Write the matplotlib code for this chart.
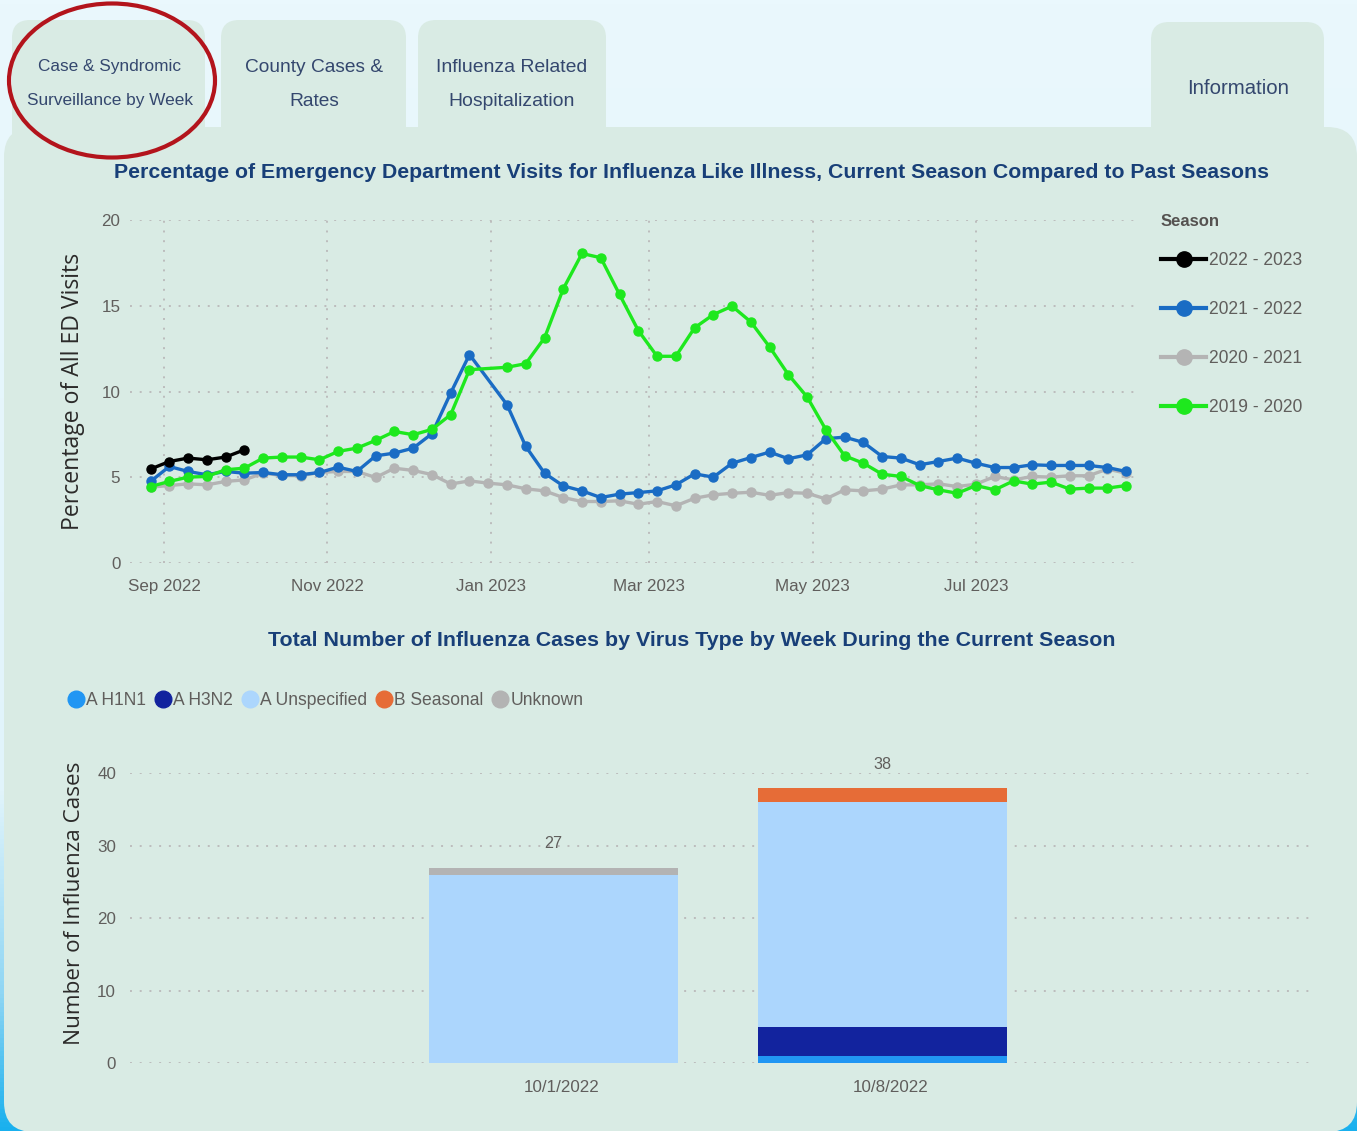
import numpy as np
import pandas as pd
import matplotlib
matplotlib.use("Agg")
import matplotlib.pyplot as plt
from matplotlib.patches import FancyBboxPatch, Ellipse
from matplotlib.lines import Line2D
from matplotlib.colors import LinearSegmentedColormap
from matplotlib.transforms import ScaledTranslation
from datetime import datetime

# ---------------- data ----------------
first_week = "2022-08-27"
n_weeks = 53
season_labels = ["2022 - 2023", "2021 - 2022", "2020 - 2021", "2019 - 2020"]
season_colors = ["#000000", "#1a6cc4", "#b4b4b4", "#1ee81e"]

ili_2022_2023 = [5.49, 5.93, 6.13, 6.03, 6.19, 6.61]
ili_2021_2022 = [4.77, 5.64, 5.35, 5.16, 5.35, 5.25, 5.29, 5.16, 5.16, 5.29,
                 5.60, 5.35, 6.26, 6.42, 6.71, 7.55, 9.92, 12.16, np.nan, 9.24,
                 6.81, 5.25, 4.51, 4.22, 3.83, 4.03, 4.12, 4.22, 4.57, 5.21,
                 5.02, 5.83, 6.16, 6.48, 6.09, 6.32, 7.26, 7.35, 7.04, 6.22,
                 6.13, 5.74, 5.93, 6.13, 5.83, 5.58, 5.58, 5.74, 5.70, 5.70,
                 5.70, 5.58, 5.35]
ili_2020_2021 = [4.44, 4.53, 4.63, 4.57, 4.77, 4.86, 5.25, 5.12, 5.10, 5.29,
                 5.35, 5.35, 5.00, 5.54, 5.41, 5.17, 4.62, 4.80, 4.67, 4.57,
                 4.34, 4.22, 3.83, 3.60, 3.60, 3.64, 3.44, 3.60, 3.35, 3.79,
                 3.99, 4.08, 4.14, 3.96, 4.12, 4.08, 3.75, 4.28, 4.22, 4.32,
                 4.57, 4.57, 4.63, 4.47, 4.61, 5.06, 4.86, 5.06, 5.02, 5.10,
                 5.10, 5.49, 5.25]
ili_2019_2020 = [4.47, 4.77, 5.02, 5.06, 5.45, 5.54, 6.13, 6.19, 6.19, 6.03,
                 6.52, 6.71, 7.16, 7.68, 7.49, 7.80, 8.66, 11.28, np.nan, 11.42,
                 11.63, 13.13, 15.99, 18.05, 17.80, 15.66, 13.56, 12.06, 12.06, 13.72,
                 14.49, 14.98, 14.06, 12.60, 10.99, 9.69, 7.78, 6.26, 5.83, 5.19,
                 5.06, 4.53, 4.28, 4.08, 4.53, 4.28, 4.80, 4.61, 4.73, 4.32,
                 4.38, 4.38, 4.53]

month_ticks = ["2022-09-01", "2022-11-01", "2023-01-01", "2023-03-01", "2023-05-01", "2023-07-01"]
month_labels = ["Sep 2022", "Nov 2022", "Jan 2023", "Mar 2023", "May 2023", "Jul 2023"]

weeks = ["10/1/2022", "10/8/2022"]
virus_types = ["A H1N1", "A H3N2", "A Unspecified", "B Seasonal", "Unknown"]
virus_colors = ["#2196f3", "#12239e", "#acd6fd", "#e66c37", "#b3b3b3"]
cases_h1n1 = [0, 1]
cases_h3n2 = [0, 4]
cases_a_unspec = [26, 31]
cases_b_seasonal = [0, 2]
cases_unknown = [1, 0]

tabs = ["Case & Syndromic\nSurveillance by Week", "County Cases &\nRates",
        "Influenza Related\nHospitalization", "Information"]

# ---------------- style ----------------
NARROW = ["Liberation Sans", "DejaVu Sans"]
WIDE = ["Open Sans", "DejaVu Sans"]
TICK_C = "#605e5c"
TITLE_C = "#183f78"
TAB_C = "#34476e"
PANEL = "#d9ebe4"
GRID = dict(color="#bcbcbc", linestyle=(0, (1, 4)), linewidth=1.4)

W, H = 1357, 1131
fig = plt.figure(figsize=(W / 100, H / 100), dpi=100)

def fx(px):
    return px / W

def fy(py):
    return 1 - py / H

# background
ax_bg = fig.add_axes([0, 0, 1, 1], zorder=-10)
ax_bg.set_xlim(0, W)
ax_bg.set_ylim(H, 0)
ax_bg.axis("off")
cmap = LinearSegmentedColormap.from_list("bg", [(0, "#eaf8fd"), (0.7, "#e1f4fb"), (0.88, "#8fd6f4"), (1.0, "#19b0ee")])
ax_bg.imshow(np.linspace(0, 1, 256).reshape(-1, 1), extent=(0, W, H, 0), cmap=cmap, aspect="auto")

tab_boxes = [(12, 20, 193), (221, 20, 185), (418, 20, 188), (1151, 22, 173)]
for (x0, y0, w) in tab_boxes:
    ax_bg.add_patch(FancyBboxPatch((x0, y0), w, 160, boxstyle="round,pad=0,rounding_size=18",
                                   facecolor=PANEL, edgecolor="none"))
ax_bg.add_patch(FancyBboxPatch((4, 127), W - 4, H - 127 + 1, boxstyle="round,pad=0,rounding_size=30",
                               facecolor=PANEL, edgecolor="none"))

renderer = fig.canvas.get_renderer()

def fit(t, target, vertical=False):
    for _ in range(3):
        bb = t.get_window_extent(renderer)
        w = bb.height if vertical else bb.width
        t.set_fontsize(t.get_fontsize() * target / w)
    return t.get_fontsize()

def probe_size(s, target, **kw):
    p = fig.text(0, 0, s, fontsize=10, **kw)
    size = fit(p, target)
    p.remove()
    return size

# tab texts
tab_centers = [(110, 84), (314, 84), (512, 84), (1238, 88)]
tab_widths = [166, 138, 150, 102]
for txt, (cx, cy), tw in zip(tabs, tab_centers, tab_widths):
    lines = txt.split("\n")
    ys = [cy - 17, cy + 17] if len(lines) == 2 else [cy]
    objs = [ax_bg.text(cx, y, l, ha="center", va="center", color=TAB_C, family=NARROW, fontsize=14)
            for l, y in zip(lines, ys)]
    longest = max(objs, key=lambda o: o.get_window_extent(renderer).width)
    fit(longest, tw)
    for o in objs:
        o.set_fontsize(longest.get_fontsize())

ax_bg.add_patch(Ellipse((112, 80.5), 206, 154, facecolor="none", edgecolor="#b3141c", linewidth=3.0))

# titles
t1 = ax_bg.text(692, 173, "Percentage of Emergency Department Visits for Influenza Like Illness, Current Season Compared to Past Seasons",
                ha="center", va="center", color=TITLE_C, family=NARROW, fontweight="bold", fontsize=16)
fit(t1, 1149)
t2 = ax_bg.text(692, 641, "Total Number of Influenza Cases by Virus Type by Week During the Current Season",
                ha="center", va="center", color=TITLE_C, family=NARROW, fontweight="bold", fontsize=16)
fit(t2, 849)

tick_fs = probe_size("Sep 2022", 73, family=NARROW)
leg_fs = probe_size("2022 - 2023", 94, family=NARROW)
leg_title_fs = probe_size("Season", 59, family=NARROW, fontweight="bold")
vleg_fs = probe_size("A Unspecified", 107, family=NARROW)

# ---------------- line chart ----------------
ax1 = fig.add_axes([fx(130), fy(563.3), fx(1135) - fx(130), (563.3 - 220) / H])
ax1.set_facecolor("none")
dates = pd.date_range(first_week, periods=n_weeks, freq="7D")
series = [ili_2022_2023, ili_2021_2022, ili_2020_2021, ili_2019_2020]
draw_order = [2, 1, 3, 0]
for i in draw_order:
    vals = np.array(series[i], dtype=float)
    d = dates[:len(vals)]
    m = ~np.isnan(vals)
    ax1.plot(d[m], vals[m], color=season_colors[i], lw=2.4, marker="o", ms=6.5,
             solid_joinstyle="round", zorder=3 + draw_order.index(i), clip_on=False)
ax1.set_ylim(0, 20)
ax1.set_yticks([0, 5, 10, 15, 20])
ax1.set_xlim(datetime(2022, 8, 19, 8), datetime(2023, 8, 29, 8))
ax1.set_xticks(pd.to_datetime(month_ticks))
ax1.set_xticklabels(month_labels)
for s in ax1.spines.values():
    s.set_visible(False)
ax1.tick_params(length=0, colors=TICK_C, labelsize=tick_fs)
ax1.tick_params(axis="y", pad=7)
ax1.tick_params(axis="x", pad=11)
for lbl in ax1.get_xticklabels() + ax1.get_yticklabels():
    lbl.set_family(NARROW)
ax1.grid(True, **GRID)
ax1.set_axisbelow(True)
yl1 = ax1.set_ylabel("Percentage of All ED Visits", family=WIDE, color="#2b2a29", fontsize=12)
ax1.yaxis.set_label_coords((85 - 130) / 1005, 0.5)
fit(yl1, 277, vertical=True)

handles = [Line2D([], [], color=c, lw=3, marker="o", ms=11) for c in season_colors]
leg1 = ax1.legend(handles, season_labels, title="Season", loc="upper left",
                  bbox_to_anchor=(fx(1152), fy(205.5)), bbox_transform=fig.transFigure,
                  frameon=False, borderpad=0, handlelength=2.6, handletextpad=0.15,
                  labelspacing=1.83, alignment="left", prop={"family": NARROW, "size": leg_fs},
                  title_fontproperties={"family": NARROW, "size": leg_title_fs, "weight": "bold"})
leg1._legend_box.sep = 16.5
for t in leg1.get_texts():
    t.set_color(TICK_C)
leg1.get_title().set_color("#555250")

# ---------------- bar chart ----------------
ax2 = fig.add_axes([fx(130), fy(1063.3), fx(1313) - fx(130), (1063.3 - 773.3) / H])
ax2.set_facecolor("none")
x = np.arange(len(weeks))
stack = [cases_h1n1, cases_h3n2, cases_a_unspec, cases_b_seasonal, cases_unknown]
bottom = np.zeros(len(weeks))
for vals, c, name in zip(stack, virus_colors, virus_types):
    ax2.bar(x, vals, bottom=bottom, width=0.757, color=c, label=name, zorder=3)
    bottom = bottom + np.array(vals)
for xi, tot in zip(x, bottom):
    ax2.annotate(f"{int(tot)}", (xi, tot), xytext=(0, 17), textcoords="offset points",
                 ha="center", va="center", color=TICK_C, family=NARROW, fontsize=tick_fs * 0.95)
ax2.set_ylim(0, 40)
ax2.set_yticks([0, 10, 20, 30, 40])
ax2.set_xlim(-1.287, 2.308)
ax2.set_xticks(x)
ax2.set_xticklabels(weeks)
for s in ax2.spines.values():
    s.set_visible(False)
ax2.tick_params(length=0, colors=TICK_C, labelsize=tick_fs)
ax2.tick_params(axis="y", pad=10)
ax2.tick_params(axis="x", pad=12)
for lbl in ax2.get_xticklabels() + ax2.get_yticklabels():
    lbl.set_family(NARROW)
for lbl in ax2.get_xticklabels():
    lbl.set_transform(lbl.get_transform() + ScaledTranslation(8 / 100, 0, fig.dpi_scale_trans))
ax2.yaxis.grid(True, **GRID)
ax2.set_axisbelow(True)
yl2 = ax2.set_ylabel("Number of Influenza Cases", family=WIDE, color="#2b2a29", fontsize=12)
ax2.yaxis.set_label_coords((85 - 130) / 1183, 0.553)
fit(yl2, 283, vertical=True)

vhandles = [Line2D([], [], color=c, marker="o", ls="none", ms=12) for c in virus_colors]
leg2 = ax2.legend(vhandles, virus_types, loc="upper left", ncol=5,
                  bbox_to_anchor=(fx(58), fy(683)), bbox_transform=fig.transFigure,
                  frameon=False, borderpad=0, handlelength=1.0, handletextpad=0.1,
                  columnspacing=0.45, prop={"family": NARROW, "size": vleg_fs})
for t in leg2.get_texts():
    t.set_color(TICK_C)

fig.savefig("out.png", dpi=100)
